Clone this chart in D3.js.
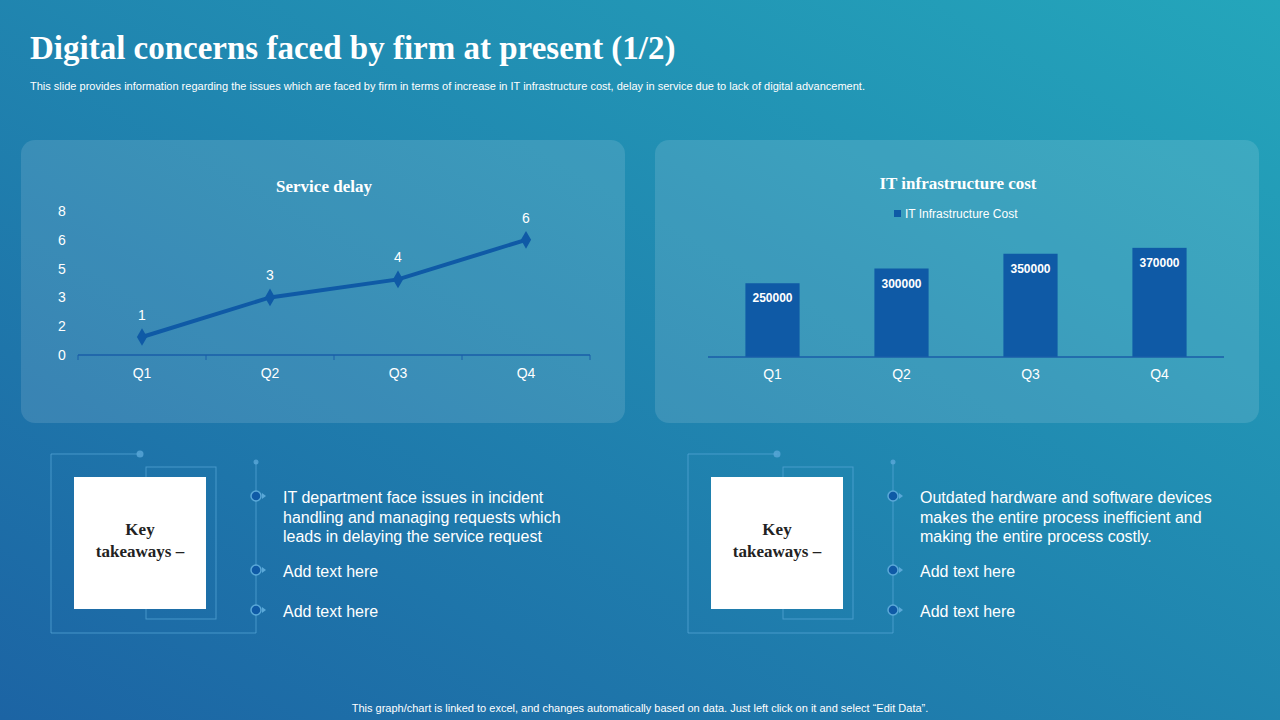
<!DOCTYPE html>
<html><head><meta charset="utf-8">
<script src="https://cdn.jsdelivr.net/npm/d3@7"></script>
<style>body{margin:0;overflow:hidden}svg{display:block}</style>
</head><body>
<svg id="c" width="1280" height="720"></svg>
<script>
// chart data
const quarters = ["Q1", "Q2", "Q3", "Q4"];
const delayValues = [1.0, 3.2, 4.2, 6.4];
const delayTicks = [0, 1.6, 3.2, 4.8, 6.4, 8];
const costValues = [250000, 300000, 350000, 370000];
const takeawaysLeft = ["IT department face issues in incident|handling and managing requests which|leads in delaying the service request", "Add text here", "Add text here"];
const takeawaysRight = ["Outdated hardware and software devices|makes the entire process inefficient and|making the entire process costly.", "Add text here", "Add text here"];

const svg = d3.select("#c");
const defs = svg.append("defs");
const bg = defs.append("linearGradient").attr("id", "bg").attr("x1", 0).attr("y1", 1).attr("x2", 1).attr("y2", 0);
bg.append("stop").attr("offset", "0%").attr("stop-color", "#1c64a4");
bg.append("stop").attr("offset", "100%").attr("stop-color", "#24a6bb");
svg.append("rect").attr("width", 1280).attr("height", 720).attr("fill", "url(#bg)");

svg.append("text").attr("x", 30).attr("y", 59).attr("fill", "#fff")
  .style("font", "bold 33px 'Liberation Serif', serif").text("Digital concerns faced by firm at present (1/2)");
svg.append("text").attr("x", 30).attr("y", 90).attr("fill", "#fff")
  .style("font", "11px 'Liberation Sans', sans-serif")
  .text("This slide provides information regarding the issues which are faced by firm in terms of increase in IT infrastructure cost, delay in service due to lack of digital advancement.");
svg.append("text").attr("x", 640).attr("y", 712).attr("text-anchor", "middle").attr("fill", "#fff")
  .style("font", "11px 'Liberation Sans', sans-serif")
  .text("This graph/chart is linked to excel,  and changes automatically based on data. Just left click on it and select \u201cEdit Data\u201d.");

// panels
[[21, 140], [655, 140]].forEach(([x, y]) => {
  svg.append("rect").attr("x", x).attr("y", y).attr("width", 604).attr("height", 283).attr("rx", 14)
    .attr("fill", "#ffffff").attr("fill-opacity", 0.12);
});

const sans = "'Liberation Sans', Arial, sans-serif";

// service delay line chart
svg.append("text").attr("x", 324).attr("y", 192).attr("text-anchor", "middle").attr("fill", "#fff")
  .style("font", "bold 17px 'Liberation Serif', serif").text("Service delay");
const x1 = d3.scalePoint().domain(quarters).range([142, 526]).padding(0);
const y1 = d3.scaleLinear().domain([0, 8]).range([355, 211]);
const g1 = svg.append("g");
g1.append("line").attr("x1", 78).attr("x2", 590).attr("y1", 355).attr("y2", 355).attr("stroke", "#1a5ea8").attr("stroke-width", 1.5);
[78, 206, 334, 462, 590].forEach(t => g1.append("line").attr("x1", t).attr("x2", t).attr("y1", 355).attr("y2", 360).attr("stroke", "#1a5ea8"));
delayTicks.forEach(t => g1.append("text").attr("x", 62).attr("y", y1(t) + 5).attr("text-anchor", "middle").attr("fill", "#fff")
  .style("font", "14px " + sans).text(d3.format(".0f")(t)));
quarters.forEach(q => g1.append("text").attr("x", x1(q)).attr("y", 378).attr("text-anchor", "middle").attr("fill", "#fff")
  .style("font", "14px " + sans).text(q));
g1.append("path").datum(delayValues).attr("fill", "none").attr("stroke", "#0f5aa6").attr("stroke-width", 4)
  .attr("d", d3.line().x((d, i) => x1(quarters[i])).y(d => y1(d)));
delayValues.forEach((d, i) => {
  g1.append("path").attr("d", d3.symbol(d3.symbolDiamond, 90)()).attr("transform", `translate(${x1(quarters[i])},${y1(d)})`).attr("fill", "#0f5aa6");
  g1.append("text").attr("x", x1(quarters[i])).attr("y", y1(d) - 17).attr("text-anchor", "middle").attr("fill", "#fff")
    .style("font", "14px " + sans).text(d3.format(".0f")(d));
});

// IT infrastructure cost bar chart
svg.append("text").attr("x", 958).attr("y", 189).attr("text-anchor", "middle").attr("fill", "#fff")
  .style("font", "bold 17px 'Liberation Serif', serif").text("IT infrastructure cost");
svg.append("rect").attr("x", 894).attr("y", 210).attr("width", 7).attr("height", 7).attr("fill", "#0f5aa6");
svg.append("text").attr("x", 905).attr("y", 218).attr("fill", "#fff").style("font", "12px " + sans).text("IT Infrastructure Cost");
const x2 = d3.scaleBand().domain(quarters).range([708, 1224]).paddingInner(0.58).paddingOuter(0.29);
const y2 = d3.scaleLinear().domain([0, 400000]).range([357, 239]);
const g2 = svg.append("g");
costValues.forEach((v, i) => {
  const q = quarters[i];
  g2.append("rect").attr("x", x2(q)).attr("y", y2(v)).attr("width", x2.bandwidth()).attr("height", y2(0) - y2(v)).attr("fill", "#0f5aa6");
  g2.append("text").attr("x", x2(q) + x2.bandwidth() / 2).attr("y", y2(v) + 19).attr("text-anchor", "middle").attr("fill", "#fff")
    .style("font", "bold 12px " + sans).text(v);
  g2.append("text").attr("x", x2(q) + x2.bandwidth() / 2).attr("y", 379).attr("text-anchor", "middle").attr("fill", "#fff")
    .style("font", "14px " + sans).text(q);
});
g2.append("line").attr("x1", 708).attr("x2", 1224).attr("y1", 357).attr("y2", 357).attr("stroke", "#1a5ea8").attr("stroke-width", 1.5);

// takeaway blocks
function takeaway(ox, items) {
  const g = svg.append("g").attr("transform", `translate(${ox},0)`);
  const ln = "#5aa8d8";
  g.append("path").attr("d", "M51,633 V454 H140").attr("fill", "none").attr("stroke", ln).attr("stroke-opacity", 0.7);
  g.append("path").attr("d", "M51,633 H256 V462").attr("fill", "none").attr("stroke", ln).attr("stroke-opacity", 0.7);
  g.append("circle").attr("cx", 140).attr("cy", 454).attr("r", 3.5).attr("fill", ln).attr("fill-opacity", 0.8);
  g.append("circle").attr("cx", 256).attr("cy", 462).attr("r", 2.5).attr("fill", ln).attr("fill-opacity", 0.8);
  g.append("rect").attr("x", 146).attr("y", 467).attr("width", 70).attr("height", 152).attr("fill", "none").attr("stroke", ln).attr("stroke-opacity", 0.7);
  g.append("rect").attr("x", 74).attr("y", 477).attr("width", 132).attr("height", 132).attr("fill", "#fff");
  g.append("text").attr("x", 140).attr("y", 535).attr("text-anchor", "middle").attr("fill", "#222")
    .style("font", "bold 17px 'Liberation Serif', serif").text("Key");
  g.append("text").attr("x", 140).attr("y", 557).attr("text-anchor", "middle").attr("fill", "#222")
    .style("font", "bold 17px 'Liberation Serif', serif").text("takeaways \u2013");
  const ys = [496, 570, 610];
  items.forEach((t, i) => {
    g.append("circle").attr("cx", 256).attr("cy", ys[i]).attr("r", 5).attr("fill", "#0f5aa6").attr("stroke", "#5aa8d8").attr("stroke-width", 1.5);
    g.append("path").attr("d", `M262,${ys[i] - 3} L266,${ys[i]} L262,${ys[i] + 3}Z`).attr("fill", "#5aa8d8");
    t.split("|").forEach((s, j) => g.append("text").attr("x", 283).attr("y", ys[i] + 7 + j * 19.5).attr("fill", "#fff")
      .style("font", "16px " + sans).text(s));
  });
}
takeaway(0, takeawaysLeft);
takeaway(637, takeawaysRight);
</script>
</body></html>
